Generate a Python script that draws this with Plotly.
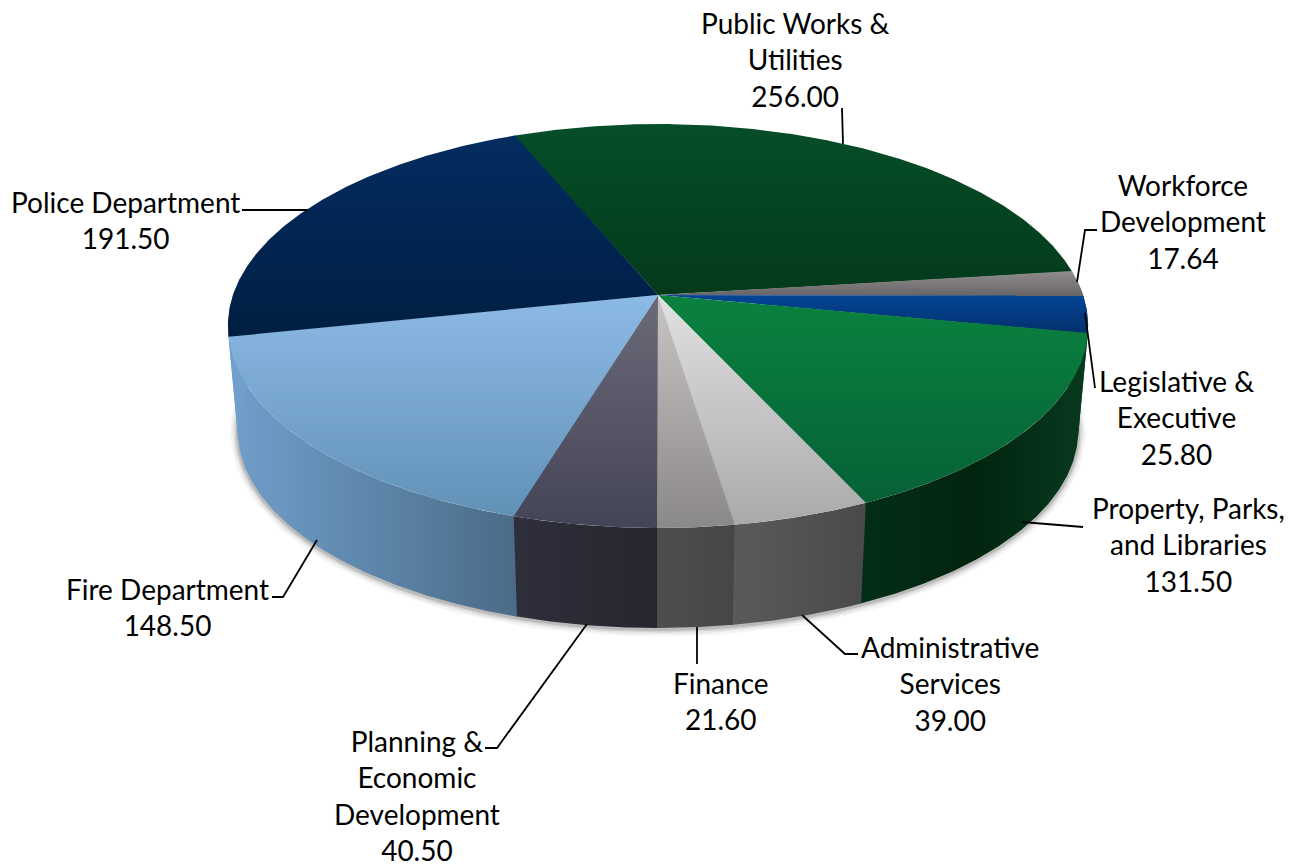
import numpy as np
import plotly.graph_objects as go

# ---- data ----
departments = ["Public Works &<br>Utilities", "Workforce<br>Development", "Legislative &<br>Executive",
               "Property, Parks,<br>and Libraries", "Administrative<br>Services", "Finance",
               "Planning &<br>Economic<br>Development", "Fire Department", "Police Department"]
values = [256.00, 17.64, 25.80, 131.50, 39.00, 21.60, 40.50, 148.50, 191.50]

# ---- styling ----
top_colors = [["#064e28", "#033a1b"], ["#918d8d", "#676468"], ["#044596", "#03306c"],
              ["#0a8240", "#066135"], ["#e2e2e2", "#a9a9a9"], ["#c9c5c5", "#8b8888"],
              ["#6a6a78", "#444457"], ["#8cbae6", "#6291b6"], ["#032c60", "#001e42"]]
wall_colors = [["#073a1e", "#073a1e"], ["#073a1e", "#073a1e"], ["#073a1e", "#073a1e"],
               ["#032e18", "#02240f", "#073a1e"], ["#5a5a5a", "#4a4a4a"], ["#4e4e4e", "#464646"],
               ["#2f2f3c", "#26262f"], ["#719fcb", "#5d86aa", "#4b6a87"], ["#719fcb", "#719fcb"]]
label_pos = [(795, 59), (1183, 221), (1176, 417), (1188, 544), (950, 683), (721, 701), (417, 795), (167, 607), (125, 220)]
leaders = [[(842, 108), (843, 144)], [(1097, 230), (1085, 230), (1077, 282)], [(1085, 313), (1095, 388)],
           [(1022, 522), (1083, 527)], [(802, 615), (845, 654), (858, 654)], [(697, 627), (697, 664)],
           [(587, 624), (497, 748), (485, 748)], [(317, 540), (283, 597), (272, 597)], [(242, 210), (308, 210)]]

CX, CY, A, B, K = 658.0, 295.0, 425.0, 197.2, 0.1535
START, SCALE, DEPTH = -22.8, 0.977, 105.4
OVERLAP = 0.2


def project(theta, bottom=False):
    t = np.radians(theta)
    X, Y = np.sin(t), np.cos(t)
    dx = A * X / (1 + K * Y)
    dy = -B * Y / (1 + K * Y)
    if bottom:
        return CX + SCALE * dx, CY + SCALE * dy + DEPTH
    return CX + dx, CY + dy


def arc(a, b, bottom=False):
    th = np.linspace(a, b, max(int(abs(b - a) * 2), 2) + 1)
    return project(th, bottom)


def scale(cols):
    return [[i / (len(cols) - 1), c] for i, c in enumerate(cols)]


total = sum(values)
edges = START + np.concatenate([[0], np.cumsum(values)]) / total * 360
fig = go.Figure()

# soft shadow below the disc
for w, op in [(16, 0.04), (11, 0.06), (7, 0.08), (4, 0.12)]:
    sx, sy = arc(92, 268, True)
    fig.add_trace(go.Scatter(x=sx, y=sy + 1, mode="lines", hoverinfo="skip",
                             line=dict(color=f"rgba(0,0,0,{op})", width=w)))

# walls
for i in range(len(values)):
    a, b = max(edges[i], 85), min(edges[i + 1] + OVERLAP, 275)
    if b <= a:
        continue
    tx, ty = arc(a, b)
    bx, by = arc(a, b, True)
    x = np.concatenate([tx, bx[::-1]])
    y = np.concatenate([ty, by[::-1]])
    fig.add_trace(go.Scatter(x=x, y=y, mode="lines", fill="toself", line=dict(width=0), hoverinfo="skip",
                             fillgradient=dict(type="horizontal", colorscale=scale(wall_colors[i]))))

# top faces
for i in range(len(values)):
    ax, ay = arc(edges[i], edges[i + 1] + OVERLAP)
    x = np.concatenate([[CX], ax, [CX]])
    y = np.concatenate([[CY], ay, [CY]])
    fig.add_trace(go.Scatter(x=x, y=y, mode="lines", fill="toself", line=dict(width=0), hoverinfo="skip",
                             fillgradient=dict(type="vertical", colorscale=scale(top_colors[i][::-1]))))

# leader lines
for pts in leaders:
    fig.add_trace(go.Scatter(x=[p[0] for p in pts], y=[p[1] for p in pts], mode="lines", hoverinfo="skip",
                             line=dict(color="#000000", width=1.8)))

for name, v, (lx, ly) in zip(departments, values, label_pos):
    fig.add_annotation(x=lx, y=ly, text=f"{name}<br>{v:.2f}", showarrow=False, xanchor="center", yanchor="middle",
                       align="center", font=dict(family="Lato", size=28, color="#000000"))

fig.update_layout(width=1293, height=867, margin=dict(l=0, r=0, t=0, b=0), showlegend=False,
                  paper_bgcolor="white", plot_bgcolor="white",
                  xaxis=dict(range=[0, 1293], visible=False, fixedrange=True),
                  yaxis=dict(range=[867, 0], visible=False, fixedrange=True))
fig.write_html("out.html", config={"displayModeBar": False},
               post_script="document.body.style.margin='0';document.body.style.overflow='hidden';")
